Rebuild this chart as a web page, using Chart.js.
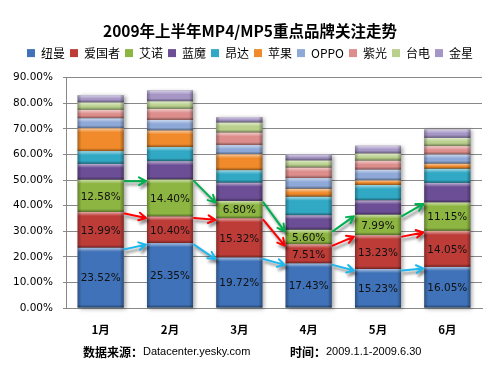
<!DOCTYPE html>
<html><head><meta charset="utf-8">
<script src="https://cdn.jsdelivr.net/npm/chart.js@4.4.0/dist/chart.umd.min.js"></script>
<style>html,body{margin:0;padding:0;background:#fff;}</style>
</head><body>
<canvas id="c" width="500" height="375"></canvas>
<script>
const chartTitle = '2009年上半年MP4/MP5重点品牌关注走势';
const months = ['1月','2月','3月','4月','5月','6月'];
const brands = ['纽曼','爱国者','艾诺','蓝魔','昂达','苹果','OPPO','紫光','台电','金星'];
const newman  = [23.52, 25.35, 19.72, 17.43, 15.23, 16.05];
const aigo    = [13.99, 10.40, 15.32, 7.51, 13.23, 14.05];
const ainol   = [12.58, 14.40, 6.80, 5.60, 7.99, 11.15];
const ramos   = [6.2, 7.2, 7.1, 5.7, 5.6, 7.6];
const onda    = [5.0, 5.5, 4.9, 7.2, 6.0, 5.5];
const apple   = [8.9, 6.5, 6.2, 3.1, 1.8, 2.0];
const oppo    = [3.9, 4.1, 3.6, 4.2, 4.2, 3.6];
const unis    = [3.3, 4.3, 4.9, 4.1, 3.5, 3.3];
const teclast = [2.9, 3.0, 3.9, 2.8, 2.8, 3.2];
const jinxing = [2.8, 4.2, 2.1, 2.3, 3.0, 3.3];
const seriesValues = [newman, aigo, ainol, ramos, onda, apple, oppo, unis, teclast, jinxing];
const colors = ['#3F72B8','#BE3C38','#8DB542','#6C4E96','#31A8C4','#F08A2A','#8EA9D8','#DD8E8C','#B9D08D','#A596C6'];
const labeledSeries = [0, 1, 2];
const arrowColors = ['#1DB8EE', '#FF0000', '#00B050'];
const yMax = 90, yStep = 10;
const sourceLabel = '数据来源：', sourceText = 'Datacenter.yesky.com';
const timeLabel = '时间：', timeText = '2009.1.1-2009.6.30';

const datasets = brands.map((b, i) => ({
  label: b, data: seriesValues[i], backgroundColor: colors[i], borderWidth: 0,
  barPercentage: 0.664, categoryPercentage: 1.0
}));

function rectOf(el) {
  const p = el.getProps(['x','y','base','width'], true);
  const top = Math.min(p.y, p.base), bottom = Math.max(p.y, p.base);
  return {l: p.x - p.width/2, r: p.x + p.width/2, t: top, b: bottom, x: p.x};
}

const shadowPlugin = {
  id: 'barShadow',
  beforeDatasetsDraw(chart) {
    const ctx = chart.ctx;
    const first = chart.getDatasetMeta(0).data;
    const last = chart.getDatasetMeta(chart.data.datasets.length - 1).data;
    ctx.save();
    first.forEach((el, i) => {
      const a = rectOf(el), z = rectOf(last[i]);
      ctx.shadowColor = 'rgba(0,0,0,0.35)';
      ctx.shadowBlur = 4; ctx.shadowOffsetX = 2; ctx.shadowOffsetY = 1;
      ctx.fillStyle = '#888';
      ctx.fillRect(a.l, z.t, a.r - a.l, a.b - z.t);
    });
    ctx.restore();
  }
};

const bevelPlugin = {
  id: 'bevel',
  afterDatasetsDraw(chart) {
    const ctx = chart.ctx;
    ctx.save();
    chart.data.datasets.forEach((ds, di) => {
      chart.getDatasetMeta(di).data.forEach(el => {
        const r = rectOf(el); const h = r.b - r.t; const w = r.r - r.l;
        if (h <= 0) return;
        const e = Math.min(4, h / 2);
        let g = ctx.createLinearGradient(0, r.t, 0, r.t + e);
        g.addColorStop(0, 'rgba(255,255,255,0.55)'); g.addColorStop(1, 'rgba(255,255,255,0)');
        ctx.fillStyle = g; ctx.fillRect(r.l, r.t, w, e);
        const eb = Math.min(3, h / 2);
        g = ctx.createLinearGradient(0, r.b - eb, 0, r.b);
        g.addColorStop(0, 'rgba(0,0,0,0)'); g.addColorStop(1, 'rgba(0,0,0,0.4)');
        ctx.fillStyle = g; ctx.fillRect(r.l, r.b - eb, w, eb);
        g = ctx.createLinearGradient(r.l, 0, r.l + 4, 0);
        g.addColorStop(0, 'rgba(0,0,0,0.28)'); g.addColorStop(1, 'rgba(0,0,0,0)');
        ctx.fillStyle = g; ctx.fillRect(r.l, r.t, 4, h);
        g = ctx.createLinearGradient(r.r - 4, 0, r.r, 0);
        g.addColorStop(0, 'rgba(0,0,0,0)'); g.addColorStop(1, 'rgba(0,0,0,0.32)');
        ctx.fillStyle = g; ctx.fillRect(r.r - 4, r.t, 4, h);
      });
    });
    ctx.restore();
  }
};

const arrowLabelPlugin = {
  id: 'arrowsLabels',
  afterDatasetsDraw(chart) {
    const ctx = chart.ctx;
    ctx.save();
    labeledSeries.forEach((di, k) => {
      const els = chart.getDatasetMeta(di).data;
      for (let i = 0; i < els.length - 1; i++) {
        const a = rectOf(els[i]), b = rectOf(els[i + 1]);
        const x1 = a.r + 1, y1 = a.t + 1.5, x2 = b.l - 1, y2 = b.t + 1.5;
        const ang = Math.atan2(y2 - y1, x2 - x1);
        ctx.shadowColor = 'rgba(0,0,0,0.5)';
        ctx.shadowBlur = 3; ctx.shadowOffsetX = 2; ctx.shadowOffsetY = 3;
        ctx.strokeStyle = arrowColors[k]; ctx.lineWidth = 2; ctx.lineCap = 'round'; ctx.lineJoin = 'round';
        ctx.beginPath(); ctx.moveTo(x1, y1); ctx.lineTo(x2, y2);
        const hl = 8, ha = 0.5;
        ctx.moveTo(x2 - hl * Math.cos(ang - ha), y2 - hl * Math.sin(ang - ha));
        ctx.lineTo(x2, y2);
        ctx.lineTo(x2 - hl * Math.cos(ang + ha), y2 - hl * Math.sin(ang + ha));
        ctx.stroke();
      }
    });
    ctx.shadowColor = 'transparent';
    ctx.font = '10.5px "DejaVu Sans"';
    ctx.fillStyle = '#111';
    ctx.textAlign = 'center'; ctx.textBaseline = 'middle';
    labeledSeries.forEach(di => {
      chart.getDatasetMeta(di).data.forEach((el, i) => {
        const r = rectOf(el);
        ctx.fillText(seriesValues[di][i].toFixed(2) + '%', r.x, (r.t + r.b) / 2 + 1);
      });
    });
    ctx.restore();
  }
};

const footerPlugin = {
  id: 'footer',
  afterDraw(chart) {
    const ctx = chart.ctx;
    ctx.save();
    ctx.fillStyle = '#000'; ctx.textBaseline = 'middle'; ctx.textAlign = 'left';
    const y = 352;
    ctx.font = '600 12px "Noto Sans CJK SC"';
    ctx.fillText(sourceLabel, 83, y);
    let w = ctx.measureText(sourceLabel).width;
    ctx.font = '11px "Liberation Sans", "DejaVu Sans"';
    ctx.fillText(sourceText, 83 + w, y);
    ctx.font = '600 12px "Noto Sans CJK SC"';
    ctx.fillText(timeLabel, 290, y);
    w = ctx.measureText(timeLabel).width;
    ctx.font = '11px "Liberation Sans", "DejaVu Sans"';
    ctx.fillText(timeText, 290 + w, y);
    ctx.restore();
  }
};

new Chart(document.getElementById('c'), {
  type: 'bar',
  data: { labels: months, datasets },
  plugins: [shadowPlugin, bevelPlugin, arrowLabelPlugin, footerPlugin],
  options: {
    responsive: false, animation: false,
    layout: { padding: 0 },
    plugins: {
      tooltip: { enabled: false },
      title: { display: true, text: chartTitle, color: '#000',
        font: { family: '"Noto Sans CJK SC"', size: 15.5, weight: 'bold' },
        padding: { top: 22, bottom: 1.5 } },
      legend: { display: true, position: 'top',
        labels: { color: '#000', boxWidth: 8, boxHeight: 8, padding: 5,
          font: { family: '"Noto Sans CJK SC"', size: 12 } } }
    },
    scales: {
      x: { stacked: true, position: 'bottom',
        grid: { display: false, drawTicks: false },
        border: { display: true, color: '#888' },
        ticks: { color: '#000', padding: 15, font: { family: '"Noto Sans CJK SC"', size: 11.5, weight: '600' } },
        afterFit(s) { s.height = 67; } },
      xTop: { type: 'category', labels: months, position: 'top', display: true,
        grid: { display: false, drawTicks: false }, border: { display: false }, ticks: { display: false },
        afterFit(s) { s.height = 8.5; } },
      y: { stacked: true, min: 0, max: yMax,
        grid: { color: '#888', tickLength: 3 },
        border: { display: true, color: '#888' },
        ticks: { stepSize: yStep, color: '#000', padding: 10,
          font: { family: '"DejaVu Sans"', size: 10.5 },
          callback: v => v.toFixed(2) + '%' },
        afterFit(s) { s.width = 66; } },
      yRight: { type: 'linear', position: 'right', display: true,
        grid: { display: false, drawTicks: false }, border: { display: false }, ticks: { display: false },
        afterFit(s) { s.width = 18; } }
    }
  }
});
</script>
</body></html>
